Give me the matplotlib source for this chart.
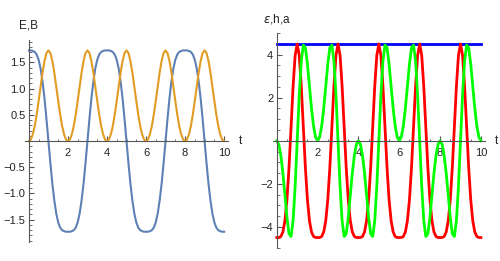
import matplotlib
matplotlib.use("Agg")
import matplotlib.pyplot as plt
from matplotlib.ticker import MultipleLocator

plt.rcParams['font.family'] = ['Liberation Sans', 'DejaVu Sans']
plt.rcParams['mathtext.fontset'] = 'dejavusans'

# sample times, step 0.1 from 0 to 10
t = [i / 10 for i in range(101)]

# left panel: E (blue) and B (orange)
E = [1.73, 1.73, 1.72, 1.70, 1.65, 1.55, 1.38, 1.13, 0.81, 0.42, 0.00,
     -0.42, -0.81, -1.13, -1.38, -1.55, -1.65, -1.70, -1.72, -1.73, -1.73,
     -1.73, -1.72, -1.70, -1.65, -1.55, -1.38, -1.13, -0.81, -0.42, 0.00,
     0.42, 0.81, 1.13, 1.38, 1.55, 1.65, 1.70, 1.72, 1.73, 1.73,
     1.73, 1.72, 1.70, 1.65, 1.55, 1.38, 1.13, 0.81, 0.42, 0.00,
     -0.42, -0.81, -1.13, -1.38, -1.55, -1.65, -1.70, -1.72, -1.73, -1.73,
     -1.73, -1.72, -1.70, -1.65, -1.55, -1.38, -1.13, -0.81, -0.42, 0.00,
     0.42, 0.81, 1.13, 1.38, 1.55, 1.65, 1.70, 1.72, 1.73, 1.73,
     1.73, 1.72, 1.70, 1.65, 1.55, 1.38, 1.13, 0.81, 0.42, 0.00,
     -0.42, -0.81, -1.13, -1.38, -1.55, -1.65, -1.70, -1.72, -1.73, -1.73]

B = [0.00, 0.03, 0.13, 0.29, 0.51, 0.77, 1.04, 1.31, 1.53, 1.68, 1.73,
     1.68, 1.53, 1.31, 1.04, 0.77, 0.51, 0.29, 0.13, 0.03, 0.00,
     0.03, 0.13, 0.29, 0.51, 0.77, 1.04, 1.31, 1.53, 1.68, 1.73,
     1.68, 1.53, 1.31, 1.04, 0.77, 0.51, 0.29, 0.13, 0.03, 0.00,
     0.03, 0.13, 0.29, 0.51, 0.77, 1.04, 1.31, 1.53, 1.68, 1.73,
     1.68, 1.53, 1.31, 1.04, 0.77, 0.51, 0.29, 0.13, 0.03, 0.00,
     0.03, 0.13, 0.29, 0.51, 0.77, 1.04, 1.31, 1.53, 1.68, 1.73,
     1.68, 1.53, 1.31, 1.04, 0.77, 0.51, 0.29, 0.13, 0.03, 0.00,
     0.03, 0.13, 0.29, 0.51, 0.77, 1.04, 1.31, 1.53, 1.68, 1.73,
     1.68, 1.53, 1.31, 1.04, 0.77, 0.51, 0.29, 0.13, 0.03, 0.00]

# right panel: epsilon (red), h (green), a (blue, constant)
eps = [-4.50, -4.50, -4.45, -4.24, -3.71, -2.73, -1.23, 0.65, 2.54, 3.97, 4.50,
       3.97, 2.54, 0.65, -1.23, -2.73, -3.71, -4.24, -4.45, -4.50, -4.50,
       -4.50, -4.45, -4.24, -3.71, -2.73, -1.23, 0.65, 2.54, 3.97, 4.50,
       3.97, 2.54, 0.65, -1.23, -2.73, -3.71, -4.24, -4.45, -4.50, -4.50,
       -4.50, -4.45, -4.24, -3.71, -2.73, -1.23, 0.65, 2.54, 3.97, 4.50,
       3.97, 2.54, 0.65, -1.23, -2.73, -3.71, -4.24, -4.45, -4.50, -4.50,
       -4.50, -4.45, -4.24, -3.71, -2.73, -1.23, 0.65, 2.54, 3.97, 4.50,
       3.97, 2.54, 0.65, -1.23, -2.73, -3.71, -4.24, -4.45, -4.50, -4.50,
       -4.50, -4.45, -4.24, -3.71, -2.73, -1.23, 0.65, 2.54, 3.97, 4.50,
       3.97, 2.54, 0.65, -1.23, -2.73, -3.71, -4.24, -4.45, -4.50, -4.50]

h = [0.00, -0.17, -0.69, -1.51, -2.54, -3.58, -4.33, -4.45, -3.71, -2.12, 0.00,
     2.12, 3.71, 4.45, 4.33, 3.58, 2.54, 1.51, 0.69, 0.17, 0.00,
     0.17, 0.69, 1.51, 2.54, 3.58, 4.33, 4.45, 3.71, 2.12, 0.00,
     -2.12, -3.71, -4.45, -4.33, -3.58, -2.54, -1.51, -0.69, -0.17, 0.00,
     -0.17, -0.69, -1.51, -2.54, -3.58, -4.33, -4.45, -3.71, -2.12, 0.00,
     2.12, 3.71, 4.45, 4.33, 3.58, 2.54, 1.51, 0.69, 0.17, 0.00,
     0.17, 0.69, 1.51, 2.54, 3.58, 4.33, 4.45, 3.71, 2.12, 0.00,
     -2.12, -3.71, -4.45, -4.33, -3.58, -2.54, -1.51, -0.69, -0.17, 0.00,
     -0.17, -0.69, -1.51, -2.54, -3.58, -4.33, -4.45, -3.71, -2.12, 0.00,
     2.12, 3.71, 4.45, 4.33, 3.58, 2.54, 1.51, 0.69, 0.17, 0.00]

a = [4.5] * len(t)

AXIS_COL = '#555555'
TEXT_COL = '#222222'


def style_axes(ax, ymajor, yminor):
    for side in ['top', 'right']:
        ax.spines[side].set_visible(False)
    ax.spines['left'].set_position(('data', 0))
    ax.spines['bottom'].set_position(('data', 0))
    for side in ['left', 'bottom']:
        ax.spines[side].set_color(AXIS_COL)
        ax.spines[side].set_linewidth(0.8)
    ax.xaxis.set_major_locator(MultipleLocator(2))
    ax.xaxis.set_minor_locator(MultipleLocator(0.5))
    ax.yaxis.set_major_locator(MultipleLocator(ymajor))
    ax.yaxis.set_minor_locator(MultipleLocator(yminor))
    ax.tick_params(which='both', direction='in', colors=AXIS_COL,
                   labelcolor=TEXT_COL, labelsize=8)
    ax.tick_params(which='major', length=3.5, width=0.8)
    ax.tick_params(which='minor', length=1.8, width=0.6)
    ax.tick_params(axis='x', pad=5)
    ax.tick_params(axis='y', pad=2.5)
    ax.patch.set_alpha(0)


fig = plt.figure(figsize=(5, 2.61), dpi=100)

# left panel
ax1 = fig.add_axes([0.05, 0.074, 0.406, 0.773])
ax1.plot(t, E, color='#5E81B5', lw=1.5, clip_on=False)
ax1.plot(t, B, color='#E19C24', lw=1.5, clip_on=False)
ax1.set_xlim(-0.2, 10.2)
ax1.set_ylim(-1.92, 1.93)
style_axes(ax1, 0.5, 0.1)
ax1.set_xticks([2, 4, 6, 8, 10])
ax1.set_xticklabels(['2', '4', '6', '8', '10'])
ax1.set_yticks([-1.5, -1.0, -0.5, 0.5, 1.0, 1.5])
ax1.set_yticklabels(['\u22121.5', '\u22121.0', '\u22120.5', '0.5', '1.0', '1.5'])
ax1.text(10.82, 0, 't', ha='center', va='center', fontsize=8.5, color=TEXT_COL)
ax1.text(-0.04, 2.2, 'E,B', ha='center', va='center', fontsize=8.5, color=TEXT_COL)

# right panel
ax2 = fig.add_axes([0.5454, 0.0487, 0.4246, 0.824])
ax2.plot(t, a, color='#0000FF', lw=2, clip_on=False)
ax2.plot(t, eps, color='#FF0000', lw=2, clip_on=False)
ax2.plot(t, h, color='#00FF00', lw=2, clip_on=False)
ax2.set_xlim(-0.2, 10.2)
ax2.set_ylim(-5, 5)
style_axes(ax2, 2, 0.5)
ax2.set_xticks([2, 4, 6, 8, 10])
ax2.set_xticklabels(['2', '4', '6', '8', '10'])
ax2.set_yticks([-4, -2, 2, 4])
ax2.set_yticklabels(['\u22124', '\u22122', '2', '4'])
ax2.text(10.75, 0, 't', ha='center', va='center', fontsize=8.5, color=TEXT_COL)
ax2.text(0.0, 5.65, '$\\varepsilon$,h,a', ha='center', va='center',
         fontsize=8.5, color=TEXT_COL)

fig.savefig('out.png', dpi=100)
